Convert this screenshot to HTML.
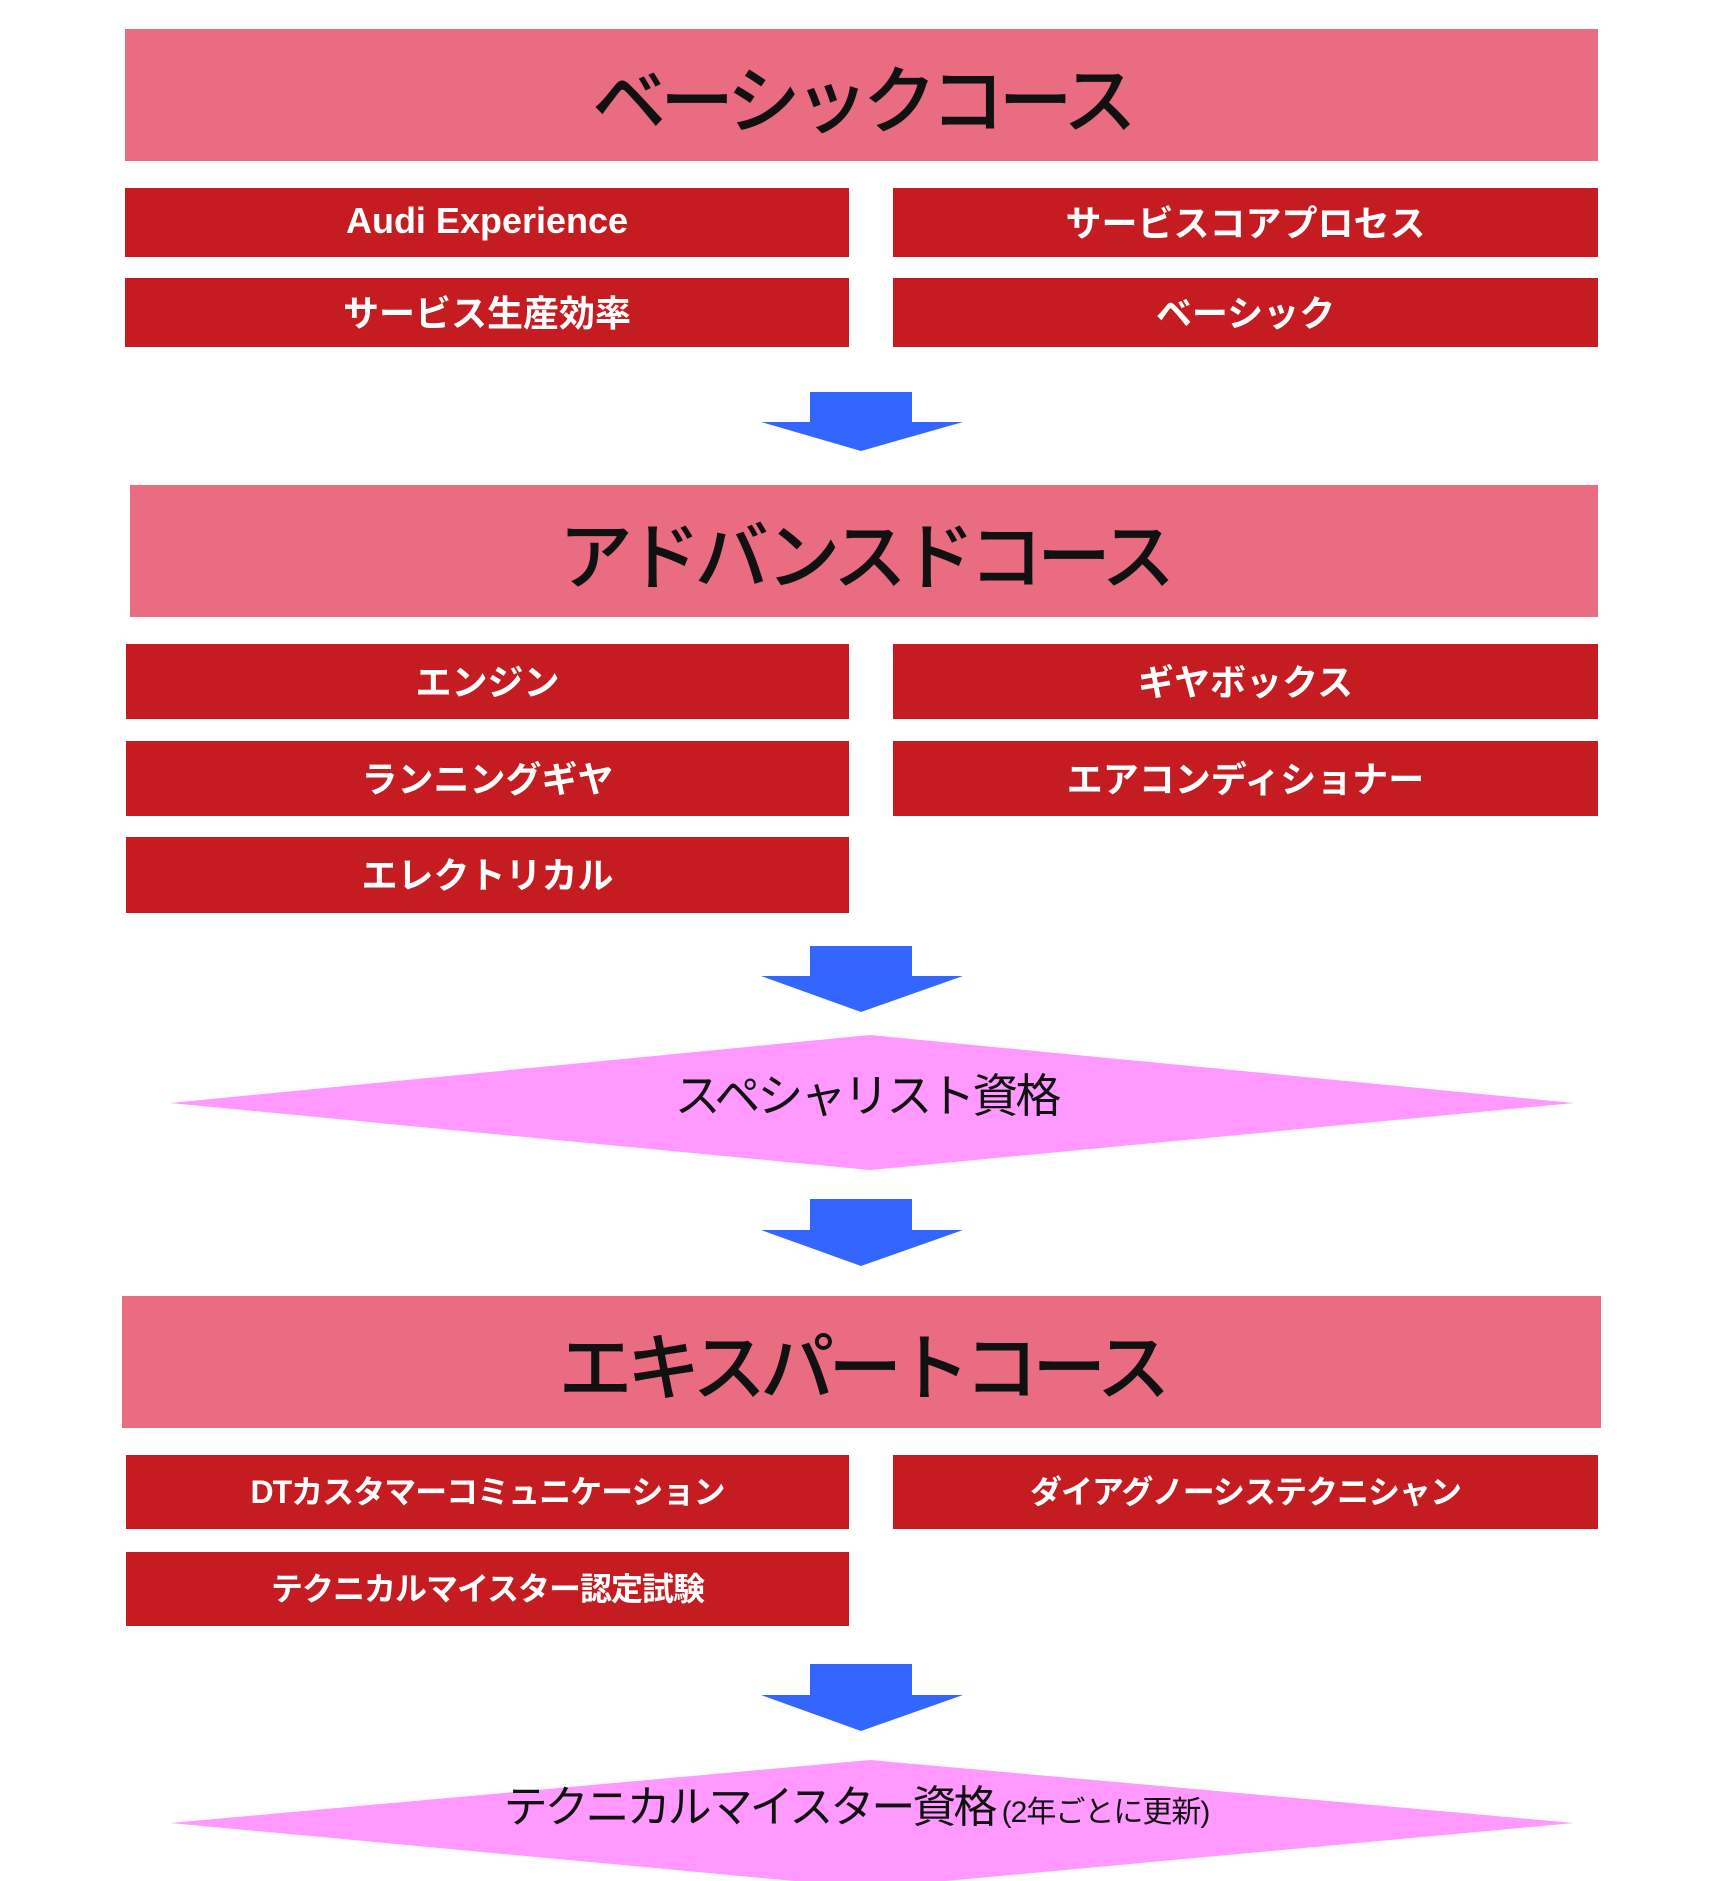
<!DOCTYPE html>
<html><head><meta charset="utf-8"><style>
body{margin:0;width:1713px;height:1881px;background:#fff;position:relative;overflow:hidden;font-family:"Liberation Sans","Noto Sans CJK JP",sans-serif}
.p{position:absolute;background:#E96C80;display:flex;align-items:center;justify-content:center;font-size:74px;color:#111;letter-spacing:-6px;font-weight:500}
.r{position:absolute;background:#C41C20;display:flex;align-items:center;justify-content:center;font-size:36px;font-weight:bold;color:#fff;padding-bottom:4px;box-sizing:border-box}
.t{position:absolute;width:1713px;left:0;text-align:center;color:#111}
svg{position:absolute;left:0;top:0}
</style></head><body>
<svg width="1713" height="1881">
<g fill="#3366FF">
<polygon points="810,392 912,392 912,422 963,422 861,451 761,422 810,422"/>
<polygon points="810,946 912,946 912,976 963,976 861,1012 761,976 810,976"/>
<polygon points="810,1199 912,1199 912,1230 963,1230 861,1266 761,1230 810,1230"/>
<polygon points="810,1664 912,1664 912,1695 963,1695 861,1731 761,1695 810,1695"/>
</g>
<polygon fill="#FF99FF" points="170,1103 870,1035 1574,1103 870,1170"/>
<polygon fill="#FF99FF" points="170,1823 870,1760 1574,1823 870,1888"/>
</svg>
<div class="p" style="left:125px;top:29px;width:1473px;height:132px">ベーシックコース</div>
<div class="r" style="left:125px;top:188px;width:724px;height:69px">Audi Experience</div>
<div class="r" style="left:893px;top:188px;width:705px;height:69px">サービスコアプロセス</div>
<div class="r" style="left:125px;top:278px;width:724px;height:69px">サービス生産効率</div>
<div class="r" style="left:893px;top:278px;width:705px;height:69px">ベーシック</div>
<div class="p" style="left:130px;top:485px;width:1468px;height:132px">アドバンスドコース</div>
<div class="r" style="left:126px;top:644px;width:723px;height:75px">エンジン</div>
<div class="r" style="left:893px;top:644px;width:705px;height:75px">ギヤボックス</div>
<div class="r" style="left:126px;top:741px;width:723px;height:75px">ランニングギヤ</div>
<div class="r" style="left:893px;top:741px;width:705px;height:75px">エアコンディショナー</div>
<div class="r" style="left:126px;top:837px;width:723px;height:76px">エレクトリカル</div>
<div class="t" style="top:1060px;font-size:46px;left:10px;letter-spacing:-3px">スペシャリスト資格</div>
<div class="p" style="left:122px;top:1296px;width:1479px;height:132px">エキスパートコース</div>
<div class="r" style="left:126px;top:1455px;width:723px;height:74px;font-size:32px;letter-spacing:-1px">DTカスタマーコミュニケーション</div>
<div class="r" style="left:893px;top:1455px;width:705px;height:74px;font-size:32px;letter-spacing:-1px">ダイアグノーシステクニシャン</div>
<div class="r" style="left:126px;top:1552px;width:723px;height:74px;font-size:32px;letter-spacing:-1px">テクニカルマイスター認定試験</div>
<div class="t" style="top:1771px;font-size:44px;left:0px;letter-spacing:-3px">テクニカルマイスター資格<span style="font-size:30px;letter-spacing:-1px"> (2年ごとに更新)</span></div>
</body></html>
